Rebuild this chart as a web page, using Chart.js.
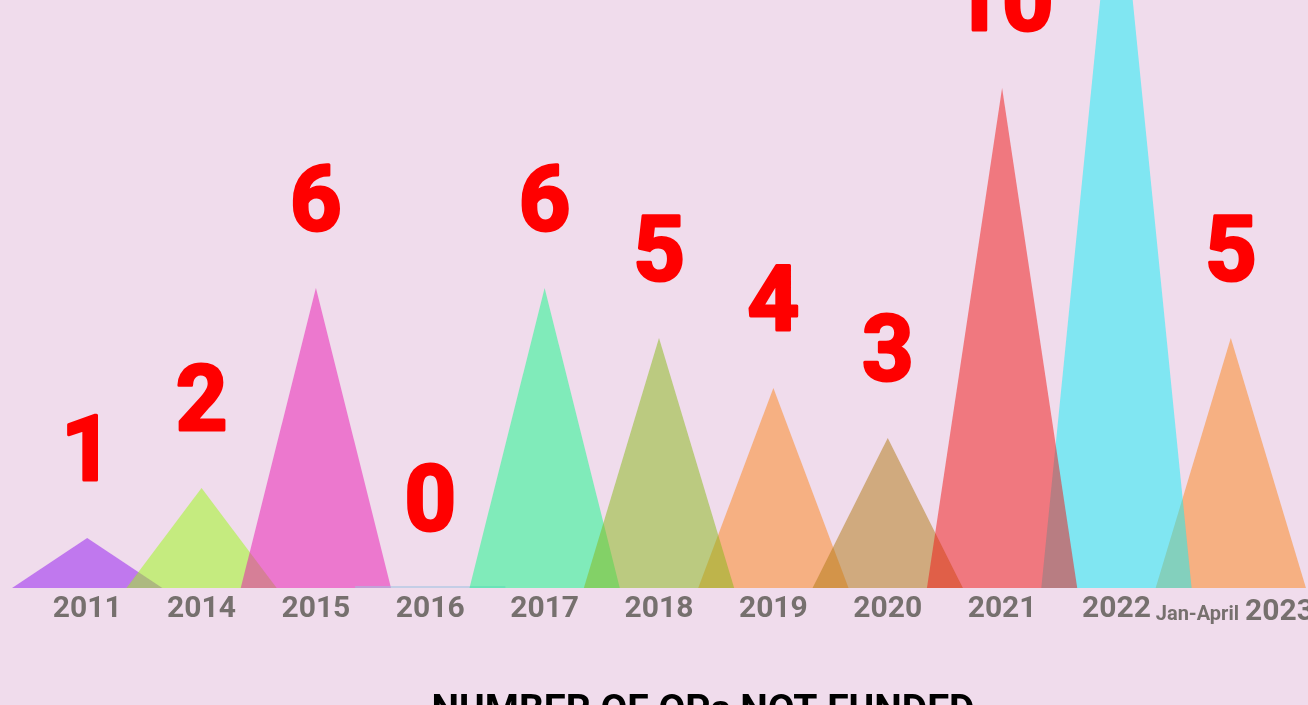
<!DOCTYPE html>
<html><head><meta charset="utf-8">
<script src="https://cdn.jsdelivr.net/npm/chart.js@4/dist/chart.umd.min.js"></script>
<style>
html,body{margin:0;padding:0;background:#f0dcec;overflow:hidden;width:1308px;height:705px;}
#wrap{position:absolute;left:0;top:0;width:1308px;height:740px;}
</style></head><body>
<div id="wrap"><canvas id="c"></canvas></div>
<script>
const categories = ['2011','2014','2015','2016','2017','2018','2019','2020','2021','2022','2023'];
const opsNotFunded = [1, 2, 6, 0, 6, 5, 4, 3, 10, 15, 5];
const tickLabels = ['2011','2014','2015','2016','2017','2018','2019','2020','2021','2022',''];
const lastTickPrefix = 'Jan-April';
const lastTickYear = '2023';
const chartTitle = 'NUMBER OF OPs NOT FUNDED';
const fillColors = [
  'rgba(144,20,240,0.5)',
  'rgba(154,250,18,0.5)',
  'rgba(232,20,176,0.5)',
  'rgba(160,195,225,0.55)',
  'rgba(16,250,136,0.5)',
  'rgba(134,184,20,0.5)',
  'rgba(252,132,24,0.5)',
  'rgba(176,120,16,0.5)',
  'rgba(240,20,18,0.5)',
  'rgba(16,240,248,0.5)',
  'rgba(252,132,24,0.5)'
];
const drawOrder = [0,1,2,3,4,6,5,7,10,9,8];

const trianglePlugin = {
  id: 'triangles',
  afterDatasetsDraw(chart) {
    const {ctx, scales: {x, y}} = chart;
    const meta = chart.getDatasetMeta(0);
    const base = y.getPixelForValue(0);
    const half = (x.getPixelForValue(1) - x.getPixelForValue(0)) * 0.657;
    ctx.save();
    drawOrder.forEach(i => {
      const el = meta.data[i];
      ctx.fillStyle = fillColors[i];
      if (opsNotFunded[i] === 0) {
        ctx.fillRect(el.x - half, base - 2, half * 2, 2);
      } else {
        ctx.beginPath();
        ctx.moveTo(el.x - half, base);
        ctx.lineTo(el.x, el.y);
        ctx.lineTo(el.x + half, base);
        ctx.closePath();
        ctx.fill();
      }
    });
    ctx.fillStyle = '#ff0000';
    ctx.strokeStyle = '#ff0000';
    ctx.lineWidth = 3;
    ctx.lineJoin = 'round';
    ctx.font = 'bold 90px Roboto';
    ctx.textAlign = 'center';
    ctx.textBaseline = 'alphabetic';
    meta.data.forEach((el, i) => {
      const t = String(opsNotFunded[i]);
      ctx.fillText(t, el.x, el.y - 58);
      ctx.strokeText(t, el.x, el.y - 58);
    });
    ctx.restore();
  },
  afterDraw(chart) {
    const {ctx, chartArea, scales: {x}} = chart;
    ctx.save();
    const cx = x.getPixelForValue(categories.length - 1) + 4;
    const baseY = x.top + 31.5;
    ctx.fillStyle = '#76706e';
    ctx.textBaseline = 'alphabetic';
    ctx.textAlign = 'left';
    ctx.font = 'bold 20px Roboto';
    const w1 = ctx.measureText(lastTickPrefix).width;
    ctx.font = 'bold 30px Roboto';
    const w2 = ctx.measureText(lastTickYear).width;
    const gap = 6;
    let sx = cx - (w1 + gap + w2) / 2;
    ctx.font = 'bold 20px Roboto';
    ctx.fillText(lastTickPrefix, sx, baseY);
    ctx.font = 'bold 30px Roboto';
    ctx.fillText(lastTickYear, sx + w1 + gap, baseY);
    ctx.fillStyle = '#000000';
    ctx.textAlign = 'center';
    ctx.font = 'bold 39px Roboto';
    ctx.fillText(chartTitle, (chartArea.left + chartArea.right) / 2 + 44, chartArea.bottom + 134);
    ctx.restore();
  }
};

new Chart(document.getElementById('c'), {
  type: 'bar',
  data: {
    labels: categories,
    datasets: [{
      data: opsNotFunded,
      backgroundColor: 'rgba(0,0,0,0)',
      borderWidth: 0,
      categoryPercentage: 1,
      barPercentage: 1
    }]
  },
  options: {
    responsive: true,
    maintainAspectRatio: false,
    animation: false,
    events: [],
    layout: {padding: {left: 30, right: 20, top: 0, bottom: 110}},
    plugins: {legend: {display: false}, tooltip: {enabled: false}, title: {display: false}},
    scales: {
      x: {
        grid: {display: false, drawTicks: false},
        border: {display: false},
        ticks: {
          padding: 3,
          color: '#76706e',
          font: {family: 'Roboto', size: 30, weight: 'bold'},
          maxRotation: 0,
          autoSkip: false,
          callback: (v, i) => tickLabels[i]
        }
      },
      y: {display: false, min: 0, max: 11.76}
    }
  },
  plugins: [trianglePlugin]
});
</script>
</body></html>
